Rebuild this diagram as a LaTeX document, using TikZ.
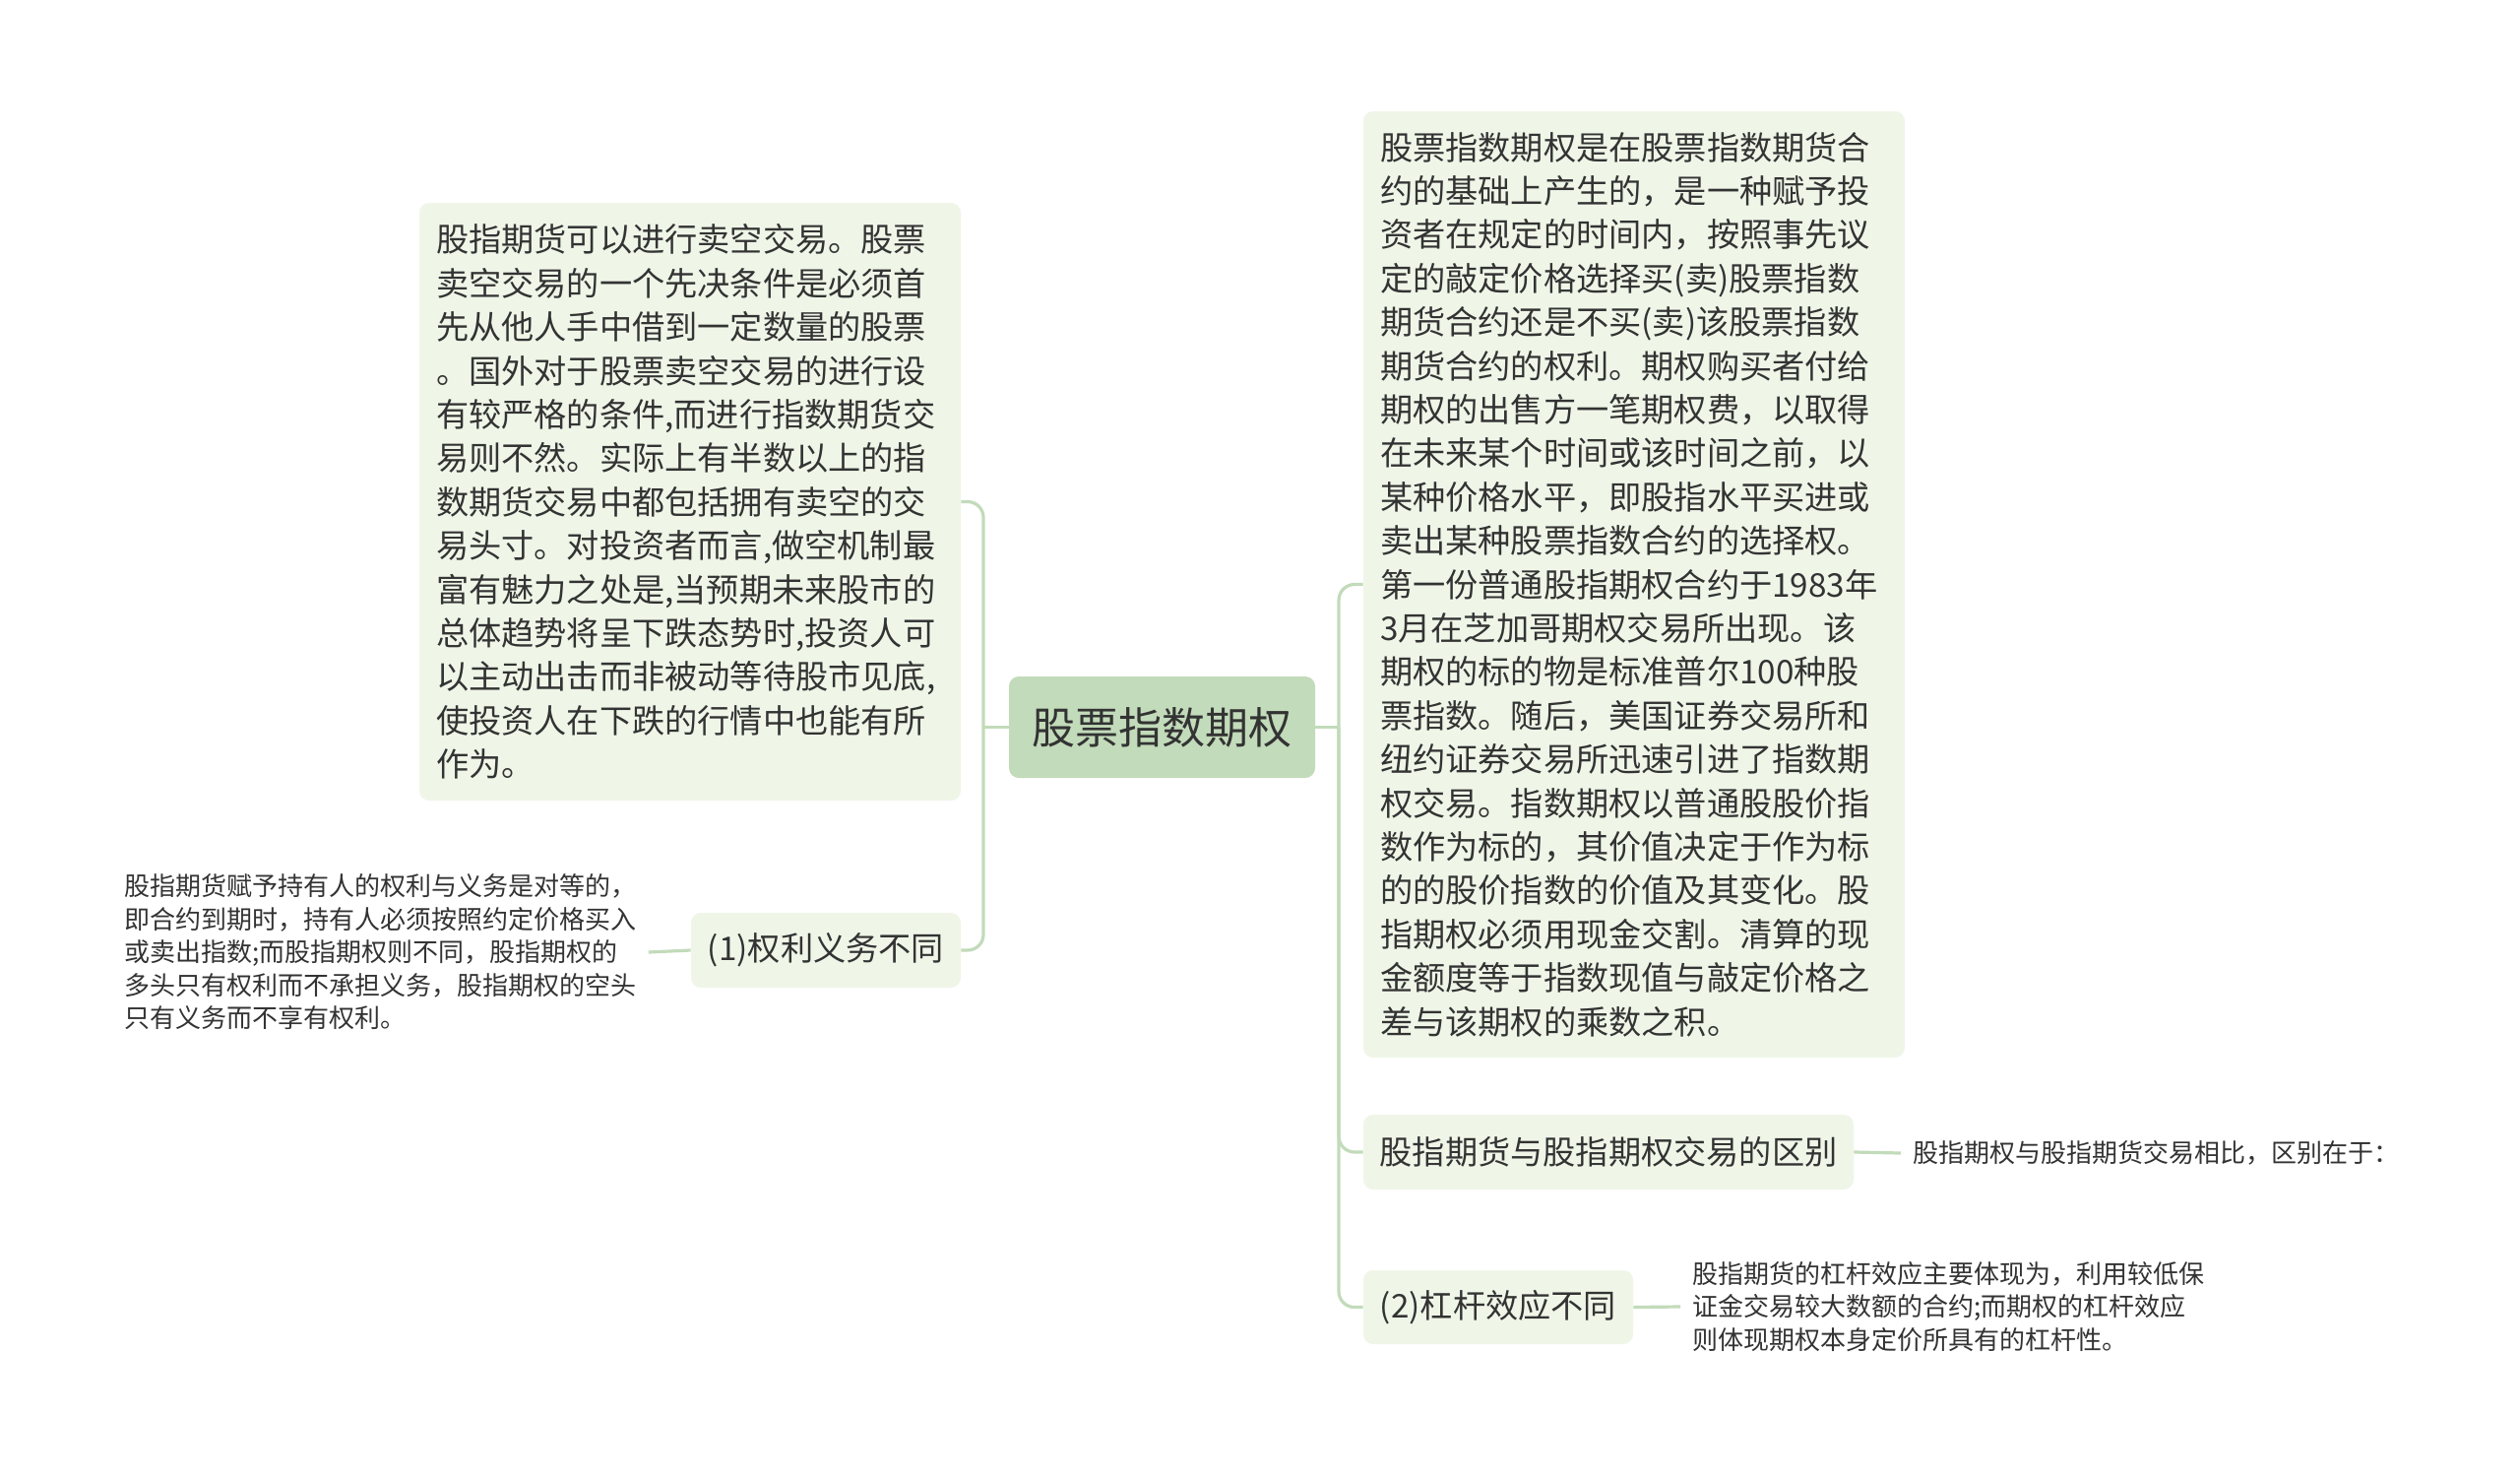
\documentclass[tikz,border=0pt]{standalone}
\usepackage{fontspec}
\setmainfont{Noto Sans CJK SC}

\definecolor{branch}{HTML}{C2DBBA}
\definecolor{boxfill}{HTML}{EFF6E8}
\definecolor{ink}{HTML}{333333}

\tikzset{
    topic/.style={fill=boxfill, rounded corners=5pt, text=ink,
        font=\fontsize{16.6}{22.2}\selectfont, inner sep=0pt},
    bigtopic/.style={topic, align=left, text width=258pt, inner xsep=8.5pt},
    leaf/.style={text=ink, font=\fontsize{13}{16.75}\selectfont,
        align=left, inner xsep=6pt, inner ysep=0pt},
    link/.style={draw=branch, line width=1.6pt, rounded corners=8pt},
}

\begin{document}
\begin{tikzpicture}[x=0.5pt, y=-0.5pt]
    \fill[white] (0,0) rectangle (2560,1501);
    \useasboundingbox (0,0) rectangle (2560,1501);

    \node[topic, fill=branch, font=\fontsize{22}{26}\selectfont,
        minimum width=155.5pt, minimum height=51.5pt] (root) at (1180.5,738.5) {股票指数期权};

    % left side
    \node[bigtopic, minimum height=303.5pt] (future) at (701,509.5) {%
        股指期货可以进行卖空交易。股票\\
        卖空交易的一个先决条件是必须首\\
        先从他人手中借到一定数量的股票\\
        。国外对于股票卖空交易的进行设\\
        有较严格的条件,而进行指数期货交\\
        易则不然。实际上有半数以上的指\\
        数期货交易中都包括拥有卖空的交\\
        易头寸。对投资者而言,做空机制最\\
        富有魅力之处是,当预期未来股市的\\
        总体趋势将呈下跌态势时,投资人可\\
        以主动出击而非被动等待股市见底,\\
        使投资人在下跌的行情中也能有所\\
        作为。};
    \node[topic, minimum width=137pt, minimum height=38pt] (rights) at (839,965) {(1)权利义务不同};
    \node[leaf, anchor=west] (rightsleaf) at (114,967) {%
        股指期货赋予持有人的权利与义务是对等的，\\
        即合约到期时，持有人必须按照约定价格买入\\
        或卖出指数;而股指期权则不同，股指期权的\\
        多头只有权利而不承担义务，股指期权的空头\\
        只有义务而不享有权利。};

    % right side
    \node[bigtopic, minimum height=480.5pt] (define) at (1660,593.5) {%
        股票指数期权是在股票指数期货合\\
        约的基础上产生的，是一种赋予投\\
        资者在规定的时间内，按照事先议\\
        定的敲定价格选择买(卖)股票指数\\
        期货合约还是不买(卖)该股票指数\\
        期货合约的权利。期权购买者付给\\
        期权的出售方一笔期权费，以取得\\
        在未来某个时间或该时间之前，以\\
        某种价格水平，即股指水平买进或\\
        卖出某种股票指数合约的选择权。\\
        第一份普通股指期权合约于1983年\\
        3月在芝加哥期权交易所出现。该\\
        期权的标的物是标准普尔100种股\\
        票指数。随后，美国证券交易所和\\
        纽约证券交易所迅速引进了指数期\\
        权交易。指数期权以普通股股价指\\
        数作为标的，其价值决定于作为标\\
        的的股价指数的价值及其变化。股\\
        指期权必须用现金交割。清算的现\\
        金额度等于指数现值与敲定价格之\\
        差与该期权的乘数之积。};
    \node[topic, minimum width=249pt, minimum height=38pt] (diff) at (1634,1170) {股指期货与股指期权交易的区别};
    \node[leaf, anchor=west] (diffleaf) at (1931,1171) {股指期权与股指期货交易相比，区别在于：};
    \node[topic, minimum width=137pt, minimum height=37.5pt] (lever) at (1522,1327.5) {(2)杠杆效应不同};
    \node[leaf, anchor=west] (leverleaf) at (1707,1327) {%
        股指期货的杠杆效应主要体现为，利用较低保\\
        证金交易较大数额的合约;而期权的杠杆效应\\
        则体现期权本身定价所具有的杠杆性。};

    \coordinate (lj) at (999,738.5);
    \coordinate (rj) at (1360,738.5);
    \draw[link] (root.west) -- (lj);
    \draw[link] (future.east) -| (lj) |- (rights.east);
    \draw[link] (rights.west) -- (rightsleaf.east);
    \draw[link] (root.east) -- (rj);
    \draw[link] (rj) |- (define.west);
    \draw[link] (rj) |- (diff.west);
    \draw[link] (rj) |- (lever.west);
    \draw[link] (diff.east) -- (diffleaf.west);
    \draw[link] (lever.east) -- (leverleaf.west);
\end{tikzpicture}
\end{document}
